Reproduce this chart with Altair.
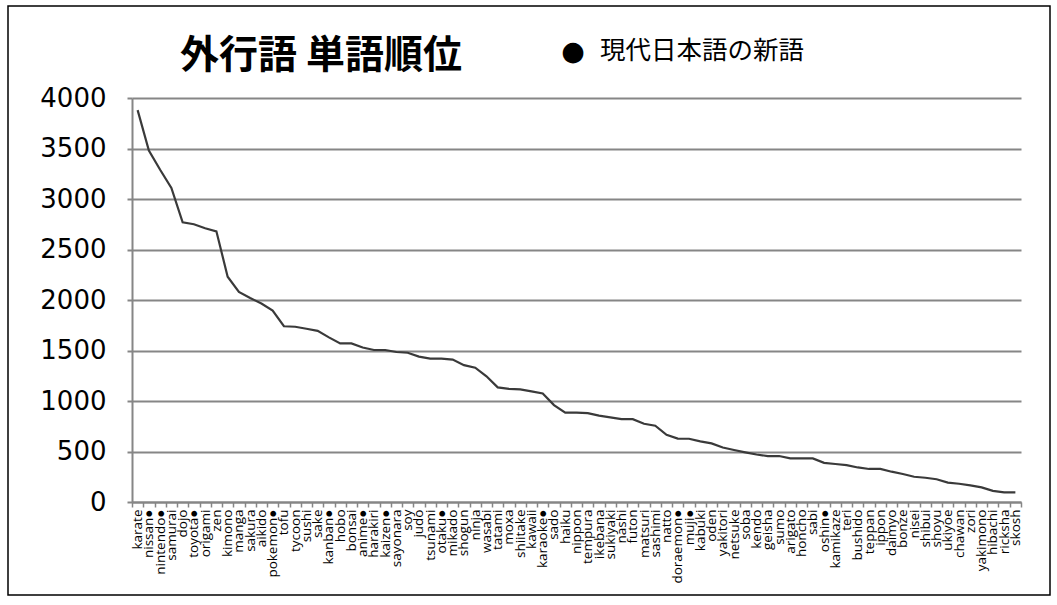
import altair as alt
import pandas as pd

words = ["karate", "nissan●", "nintendo●", "samurai", "dojo", "toyota●", "origami", "zen",
         "kimono", "manga", "sakura", "aikido", "pokemon●", "tofu", "tycoon", "sushi", "sake",
         "kanban●", "hobo", "bonsai", "anime●", "harakiri", "kaizen●", "sayonara", "soy", "judo",
         "tsunami", "otaku●", "mikado", "shogun", "ninja", "wasabi", "tatami", "moxa", "shiitake",
         "kawaii", "karaoke●", "sado", "haiku", "nippon", "tempura", "ikebana", "sukiyaki", "nashi",
         "futon", "matsuri", "sashimi", "natto", "doraemon●", "muji●", "kabuki", "oden", "yakitori",
         "netsuke", "soba", "kendo", "geisha", "sumo", "arigato", "honcho", "sabi", "oshin●",
         "kamikaze", "teri", "bushido", "teppan", "ippon", "daimyo", "bonze", "nisei", "shibui",
         "shoyu", "ukiyoe", "chawan", "zori", "yakimono", "hibachi", "ricksha", "skosh"]

counts = [3880, 3480, 3290, 3110, 2770, 2750, 2710, 2680,
          2230, 2080, 2020, 1965, 1895, 1740, 1735, 1715, 1695,
          1630, 1570, 1570, 1530, 1505, 1505, 1485, 1478, 1440,
          1420, 1420, 1410, 1355, 1330, 1245, 1135, 1120, 1115,
          1095, 1075, 960, 885, 885, 880, 855, 838, 820,
          820, 775, 755, 665, 628, 626, 600, 580, 540,
          515, 492, 470, 455, 455, 432, 432, 432, 388,
          376, 365, 342, 327, 327, 300, 277, 250, 240,
          225, 192, 181, 165, 145, 110, 96, 95]

title_text = "外行語 単語順位"
legend_text = "現代日本語の新語"
y_ticks = [0, 500, 1000, 1500, 2000, 2500, 3000, 3500, 4000]

df = pd.DataFrame({"word": words, "count": counts})

grey = "#868686"

base = alt.Chart(df)

line = base.mark_line(color="#3a3a3a", strokeWidth=2.2).encode(
    x=alt.X("word:N", sort=None,
            scale=alt.Scale(type="band", paddingInner=0, paddingOuter=0),
            axis=alt.Axis(title=None, labelAngle=-90, labelFont="Open Sans", labelFontSize=13.5,
                          labelColor="#000000", labelPadding=2, tickBand="extent",
                          tickSize=5, tickColor=grey, tickWidth=1.5,
                          domainColor=grey, domainWidth=2, grid=False, labelOverlap=False)),
    y=alt.Y("count:Q",
            scale=alt.Scale(domain=[0, 4000], nice=False, zero=True),
            axis=alt.Axis(title=None, values=y_ticks, format="d", labelFont="DejaVu Sans",
                          labelFontSize=26, labelColor="#000000", labelPadding=21,
                          tickSize=5, tickColor=grey, tickWidth=2,
                          domainColor=grey, domainWidth=2,
                          grid=True, gridColor=grey, gridWidth=2))
)

title = alt.Chart(pd.DataFrame({"t": [title_text]})).mark_text(
    font="Noto Sans CJK JP", fontSize=39, fontWeight="bold", color="#000000",
    align="center", baseline="middle"
).encode(text="t:N", x=alt.value(189), y=alt.value(-42))

dot = alt.Chart(pd.DataFrame({"t": ["●"]})).mark_text(
    font="DejaVu Sans", fontSize=27, color="#000000", align="center", baseline="middle"
).encode(text="t:N", x=alt.value(441), y=alt.value(-46))

legend = alt.Chart(pd.DataFrame({"t": [legend_text]})).mark_text(
    font="Noto Sans CJK JP", fontSize=25.5, color="#000000", align="left", baseline="middle"
).encode(text="t:N", x=alt.value(468), y=alt.value(-47))

frame = alt.Chart(pd.DataFrame({"a": [0]})).mark_rect(
    fill=None, stroke="#000000", strokeWidth=1.5, clip=False
).encode(x=alt.value(-124), x2=alt.value(918), y=alt.value(-92), y2=alt.value(497))

chart = alt.layer(frame, line, title, dot, legend).properties(
    width=889, height=404,
    autosize=alt.AutoSizeParams(type="none"),
    padding={"left": 132, "top": 98, "right": 36, "bottom": 103},
    background="#ffffff"
).configure_view(stroke=None)

chart.save("out.html", embed_options={"renderer": "svg", "actions": False})
